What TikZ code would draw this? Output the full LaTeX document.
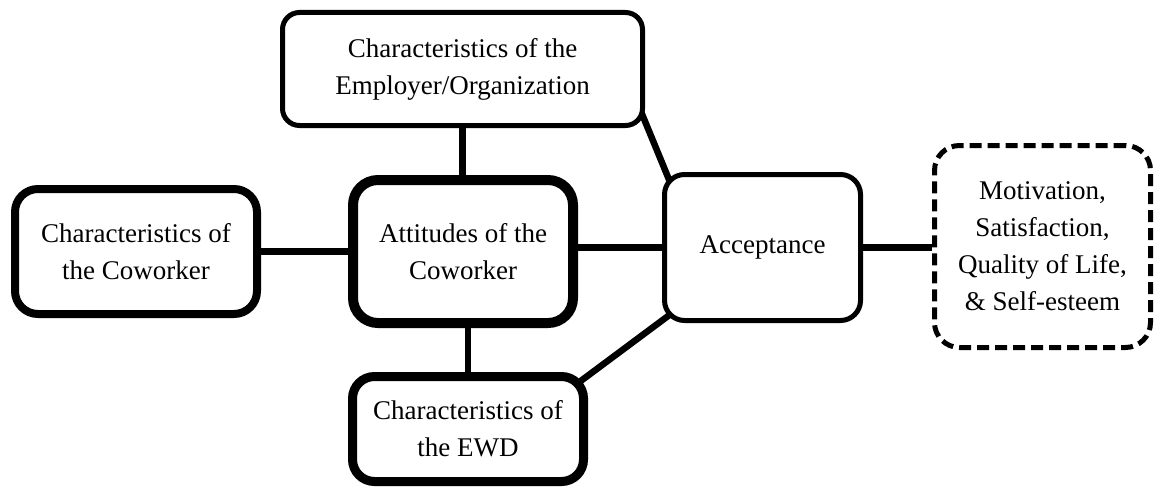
\documentclass[tikz,border=0pt]{standalone}
\usepackage{fontspec}
\setmainfont{Liberation Serif}
\usetikzlibrary{backgrounds,calc}
\begin{document}
\begin{tikzpicture}[x=1pt,y=-1pt,
  card/.style={draw, fill=white, rounded corners=#1, align=center, inner sep=0pt,
    font=\fontsize{27}{37}\selectfont},
  card/.default=20pt,
  link/.style={line width=6.5pt},
]
\useasboundingbox (0,0) rectangle (1155,487);

% boxes
\node[card=17pt, line width=5pt, minimum width=360pt, minimum height=113pt]
  (emp) at (462.5,69) {Characteristics of the\\Employer/Organization};
\node[card=23pt, line width=8pt, minimum width=242pt, minimum height=125pt]
  (cw) at (136,251.5) {Characteristics of\\the Coworker};
\node[card=25pt, line width=10pt, minimum width=220pt, minimum height=143pt]
  (att) at (463,251.5) {Attitudes of the\\Coworker};
\node[card=22pt, line width=9pt, minimum width=231pt, minimum height=105pt]
  (ewd) at (468,429) {Characteristics of\\the EWD};
\node[card=20pt, line width=5pt, minimum width=196pt, minimum height=146pt]
  (acc) at (762.5,247.5) {Acceptance};
\node[card=25pt, line width=5pt, dash pattern=on 12pt off 6pt,
  minimum width=216pt, minimum height=202pt]
  (out) at (1042.5,246.5) {Motivation,\\Satisfaction,\\Quality of Life,\\\& Self-esteem};

% connectors behind the boxes
\begin{scope}[on background layer]
  \draw[link] (emp.south) -- (emp.south |- att.north);
  \draw[link] (cw.east) -- (cw.east -| att.west);
  \draw[link] (ewd.north) -- (ewd.north |- att.south);
  \draw[link] (acc.west -| att.east) -- (acc.west);
  \draw[link] (acc.east) -- (acc.east -| out.west);
  \draw[link, shorten <=-10pt, shorten >=-10pt] (emp.-16) -- (acc.142);
  \draw[link, shorten <=-10pt, shorten >=-10pt] (ewd.24) -- (acc.216);
\end{scope}
\end{tikzpicture}
\end{document}
